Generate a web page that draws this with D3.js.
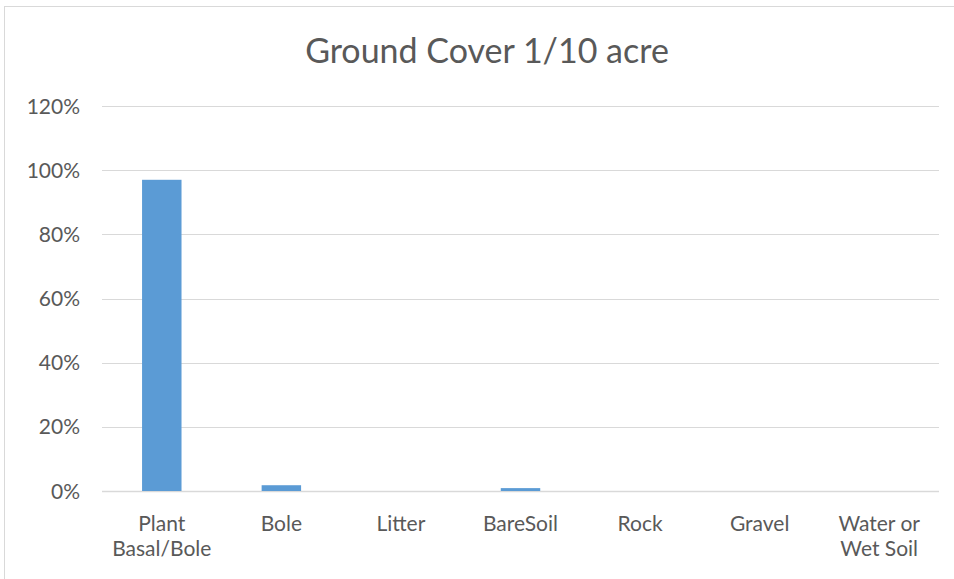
<!DOCTYPE html>
<html>
<head>
<meta charset="utf-8">
<script src="https://cdn.jsdelivr.net/npm/d3@7"></script>
<style>
  html, body { margin: 0; padding: 0; background: #fff; }
  svg { display: block; }
  text { font-family: Lato, "Open Sans", sans-serif; fill: #595959; }
</style>
</head>
<body>
<svg id="chart" width="954" height="579"></svg>
<script>
// Ground cover categories and their share of the 1/10 acre plot
const categories = ["Plant\nBasal/Bole", "Bole", "Litter", "BareSoil", "Rock", "Gravel", "Water or\nWet Soil"];
const values = [0.97, 0.018, 0, 0.009, 0, 0, 0];
const yTicks = [0, 0.2, 0.4, 0.6, 0.8, 1.0, 1.2];
const title = "Ground Cover 1/10 acre";

const svg = d3.select("#chart");
const W = 954, H = 579;

// chart frame
svg.append("rect")
  .attr("x", 4.5).attr("y", 6.5)
  .attr("width", W + 10).attr("height", H)
  .attr("fill", "#fff").attr("stroke", "#d9d9d9").attr("stroke-width", 1);

const plot = { left: 102, right: 939, top: 106, bottom: 491 };

const x = d3.scaleBand()
  .domain(categories)
  .range([plot.left, plot.right])
  .paddingInner(0.67).paddingOuter(0.335);

const y = d3.scaleLinear()
  .domain([0, 1.2])
  .range([plot.bottom, plot.top]);

// horizontal gridlines
svg.append("g")
  .selectAll("line")
  .data(yTicks)
  .join("line")
  .attr("x1", plot.left).attr("x2", plot.right)
  .attr("y1", d => Math.round(y(d)) + 0.5).attr("y2", d => Math.round(y(d)) + 0.5)
  .attr("stroke", "#d9d9d9").attr("stroke-width", d => d === 0 ? 1.5 : 1);

// y axis labels
const yAxis = d3.axisLeft(y).tickValues(yTicks).tickFormat(d3.format(".0%")).tickSize(0).tickPadding(0);
const gy = svg.append("g").attr("transform", `translate(${plot.left - 22},0)`).call(yAxis);
gy.select(".domain").remove();
gy.selectAll("text").attr("font-size", 21).attr("fill", "#595959").attr("dy", "0.34em")
  .style("font-family", 'Lato, sans-serif');

// bars
svg.append("g")
  .selectAll("rect")
  .data(categories.map((c, i) => ({ c, v: values[i] })))
  .join("rect")
  .attr("x", d => x(d.c))
  .attr("width", x.bandwidth())
  .attr("y", d => y(d.v))
  .attr("height", d => y(0) - y(d.v))
  .attr("fill", "#5b9bd5");

// x axis labels (two-line where needed)
const gx = svg.append("g");
categories.forEach(c => {
  const lines = c.split("\n");
  const cx = x(c) + x.bandwidth() / 2;
  lines.forEach((ln, i) => {
    gx.append("text")
      .attr("x", cx)
      .attr("y", 531 + i * 25.3)
      .attr("text-anchor", "middle")
      .attr("font-size", 21)
      .text(ln);
  });
});

// title
svg.append("text")
  .attr("x", 487).attr("y", 63)
  .attr("text-anchor", "middle")
  .attr("font-size", 34)
  .text(title);
</script>
</body>
</html>
